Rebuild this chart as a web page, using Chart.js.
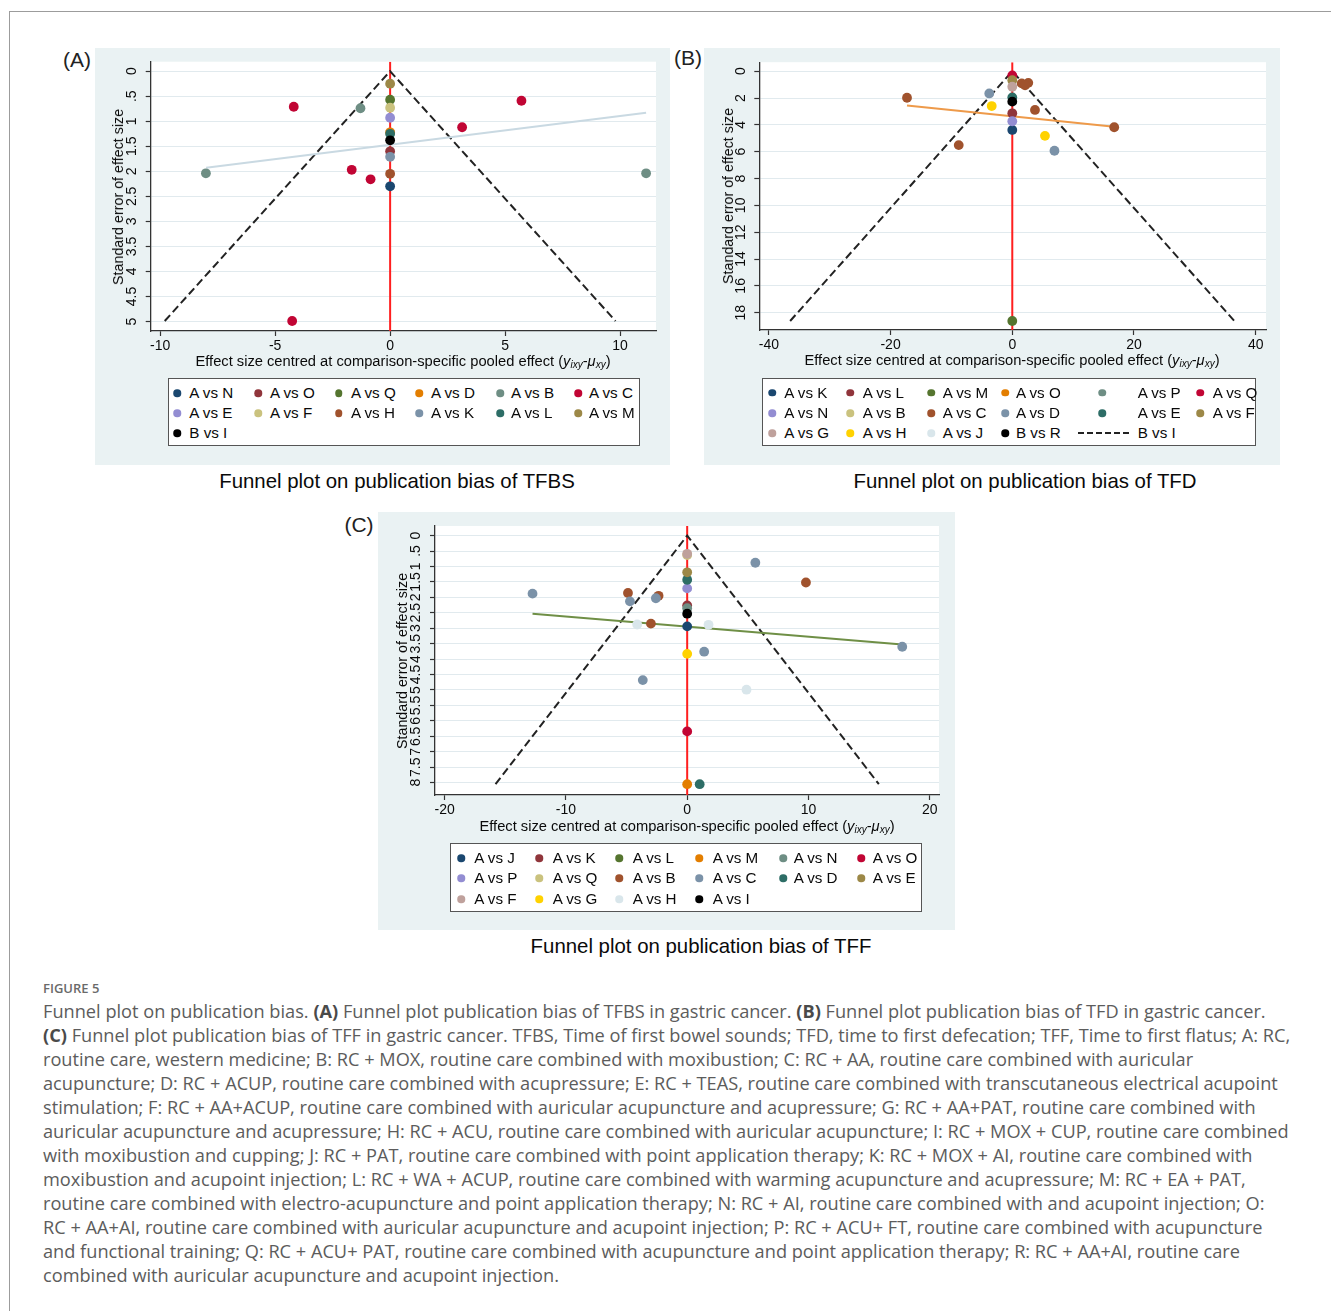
<!DOCTYPE html>
<html>
<head>
<meta charset="utf-8">
<script src="https://cdn.jsdelivr.net/npm/chart.js@4.4.1/dist/chart.umd.min.js"></script>
<style>
  html, body { margin: 0; padding: 0; background: #fff; }
  body { width: 1331px; height: 1311px; position: relative; overflow: hidden;
         font-family: "Liberation Sans", Arial, sans-serif; color: #111; }
  #frame { position: absolute; left: 9px; top: 11px; width: 1340px; height: 1320px;
           border-top: 1px solid #9c9c9c; border-left: 1px solid #9c9c9c; }
  .panel { position: absolute; background: #eaf2f3; }
  .panel canvas { position: absolute; left: 0; top: 0; }
  .tag { position: absolute; font-size: 21px; transform: translate(-50%, -50%); color: #222; }
  .xt { position: absolute; font-size: 14.7px; white-space: nowrap; transform: translate(-50%, -50%); color: #0a0a0a; }
  .xt sub { font-size: 10px; vertical-align: -2px; }
  .yt { position: absolute; font-size: 14.3px; white-space: nowrap; transform: translate(-50%, -50%) rotate(-90deg); color: #0a0a0a; }
  .legend { position: absolute; background: #fff; border: 1.5px solid #555; box-sizing: border-box; }
  .li { position: absolute; font-size: 15.2px; line-height: 16px; white-space: nowrap; transform: translateY(-50%); color: #0a0a0a; }
  .dot { position: absolute; width: 7.5px; height: 7.5px; border-radius: 50%; transform: translate(-50%, -50%); }
  .dash { position: absolute; height: 0; border-top: 2px dashed #222; transform: translateY(-50%); }
  .ptitle { position: absolute; font-size: 20.4px; white-space: nowrap; transform: translate(-50%, -50%); color: #0a0a0a; }
  #figlab { position: absolute; left: 43px; top: 979px; font-family: "Open Sans", sans-serif; font-weight: 600;
            font-size: 13px; color: #6a6a6a; }
  #cap { position: absolute; left: 43px; top: 999px; font-family: "Open Sans", sans-serif; font-size: 16.6px;
         line-height: 24px; color: #5c5c5c; white-space: nowrap; }
  #cap b { color: #4a4a4a; }
</style>
</head>
<body>
<div id="frame"></div>

<div class="panel" id="boxA" style="left:95px;top:48px;width:575px;height:417px;"><canvas id="chartA"></canvas></div>
<div class="panel" id="boxB" style="left:704px;top:48px;width:576px;height:417px;"><canvas id="chartB"></canvas></div>
<div class="panel" id="boxC" style="left:378px;top:512px;width:577px;height:418px;"><canvas id="chartC"></canvas></div>

<div class="tag" style="left:77px;top:60px;">(A)</div>
<div class="tag" style="left:688px;top:58px;">(B)</div>
<div class="tag" style="left:359px;top:525px;">(C)</div>

<div class="yt" style="left:118px;top:197px;">Standard error of effect size</div>
<div class="yt" style="left:728px;top:196px;">Standard error of effect size</div>
<div class="yt" style="left:402px;top:661px;">Standard error of effect size</div>

<div class="xt" style="left:403px;top:361px;">Effect size centred at comparison-specific pooled effect (<i>y</i><sub><i>ixy</i></sub>-<i>μ</i><sub><i>xy</i></sub>)</div>
<div class="xt" style="left:1012px;top:360px;">Effect size centred at comparison-specific pooled effect (<i>y</i><sub><i>ixy</i></sub>-<i>μ</i><sub><i>xy</i></sub>)</div>
<div class="xt" style="left:687px;top:826px;">Effect size centred at comparison-specific pooled effect (<i>y</i><sub><i>ixy</i></sub>-<i>μ</i><sub><i>xy</i></sub>)</div>

<div class="ptitle" style="left:397px;top:481px;">Funnel plot on publication bias of TFBS</div>
<div class="ptitle" style="left:1025px;top:481px;">Funnel plot on publication bias of TFD</div>
<div class="ptitle" style="left:701px;top:946px;">Funnel plot on publication bias of TFF</div>

<div id="figlab">FIGURE 5</div>
<div id="cap">
Funnel plot on publication bias. <b>(A)</b> Funnel plot publication bias of TFBS in gastric cancer. <b>(B)</b> Funnel plot publication bias of TFD in gastric cancer.<br>
<b>(C)</b> Funnel plot publication bias of TFF in gastric cancer. TFBS, Time of first bowel sounds; TFD, time to first defecation; TFF, Time to first flatus; A: RC,<br>
routine care, western medicine; B: RC + MOX, routine care combined with moxibustion; C: RC + AA, routine care combined with auricular<br>
acupuncture; D: RC + ACUP, routine care combined with acupressure; E: RC + TEAS, routine care combined with transcutaneous electrical acupoint<br>
stimulation; F: RC + AA+ACUP, routine care combined with auricular acupuncture and acupressure; G: RC + AA+PAT, routine care combined with<br>
<span id="capRef">auricular acupuncture and acupressure; H: RC + ACU, routine care combined with auricular acupuncture; I: RC + MOX + CUP, routine care combined</span><br>
with moxibustion and cupping; J: RC + PAT, routine care combined with point application therapy; K: RC + MOX + AI, routine care combined with<br>
moxibustion and acupoint injection; L: RC + WA + ACUP, routine care combined with warming acupuncture and acupressure; M: RC + EA + PAT,<br>
routine care combined with electro-acupuncture and point application therapy; N: RC + AI, routine care combined with and acupoint injection; O:<br>
RC + AA+AI, routine care combined with auricular acupuncture and acupoint injection; P: RC + ACU+ FT, routine care combined with acupuncture<br>
and functional training; Q: RC + ACU+ PAT, routine care combined with acupuncture and point application therapy; R: RC + AA+AI, routine care<br>
combined with auricular acupuncture and acupoint injection.
</div>

<script>
// Stata s2color palette
const navy = '#1a476f', maroon = '#90353b', forest = '#55752f', dkorange = '#e37e00',
      teal = '#6e8e84', cranberry = '#c10534', lavender = '#938dd2', khaki = '#cac27e',
      sienna = '#a0522d', emidblue = '#7b92a8', emerald = '#2d6d66', brown = '#9c8847',
      erose = '#bfa19c', gold = '#ffd200', bluishgray = '#d9e6eb', black = '#000000';

// ---- (A) TFBS ----
const tfbsGroups = ['A vs N', 'A vs O', 'A vs Q', 'A vs D', 'A vs B', 'A vs C',
                    'A vs E', 'A vs F', 'A vs H', 'A vs K', 'A vs L', 'A vs M', 'B vs I'];
const tfbsColors = [navy, maroon, forest, dkorange, teal, cranberry,
                    lavender, khaki, sienna, emidblue, emerald, brown, black];
const tfbsEffect = [[0], [0], [0], [0], [-1.29, -8.01, 11.13],
                    [-4.19, 5.71, 3.13, -1.67, -0.85, -4.26],
                    [0], [0], [0], [0], [0], [0], [0]];
const tfbsSE = [[2.30], [1.60], [0.57], [1.22], [0.74, 2.04, 2.04],
                [0.71, 0.59, 1.12, 1.97, 2.16, 4.99],
                [0.93], [0.73], [2.05], [1.71], [1.25], [0.25], [1.38]];
const tfbsFitX = [-8.0, 11.13];
const tfbsFitY = [1.93, 0.83];
const tfbsFunnelX = [-9.8, 0, 9.8];
const tfbsFunnelY = [4.99, 0, 4.99];
const tfbsXTicks = [-10, -5, 0, 5, 10];
const tfbsYTicks = [0, 0.5, 1, 1.5, 2, 2.5, 3, 3.5, 4, 4.5, 5];
const tfbsXRange = [-10.41, 11.56];
const tfbsYRange = [-0.19, 5.19];

// ---- (B) TFD ----
const tfdGroups = ['A vs K', 'A vs L', 'A vs M', 'A vs O', 'A vs P', 'A vs Q',
                   'A vs N', 'A vs B', 'A vs C', 'A vs D', 'A vs E', 'A vs F',
                   'A vs G', 'A vs H', 'A vs J', 'B vs R'];
const tfdColors = [navy, maroon, forest, dkorange, teal, cranberry,
                   lavender, khaki, sienna, emidblue, emerald, brown,
                   erose, gold, bluishgray, black];
const tfdEffect = [[0], [0], [0], [], [], [0],
                   [0], [], [1.54, 2.63, 2.1, -17.3, 3.73, -8.8, 16.75], [-3.78, 6.93], [0], [0],
                   [0], [-3.38, 5.37], [], [0]];
const tfdSE = [[4.38], [3.14], [18.62], [], [], [0.32],
               [3.73], [], [0.91, 0.87, 1.05, 1.98, 2.89, 5.51, 4.18], [1.66, 5.93], [1.95], [0.67],
               [1.16], [2.6, 4.82], [], [2.27]];
const tfdFitX = [-17.3, 16.75];
const tfdFitY = [2.55, 4.15];
const tfdFunnelX = [-36.5, 0, 36.5];
const tfdFunnelY = [18.62, 0, 18.62];
const tfdXTicks = [-40, -20, 0, 20, 40];
const tfdYTicks = [0, 2, 4, 6, 8, 10, 12, 14, 16, 18];
const tfdXRange = [-41.57, 41.69];
const tfdYRange = [-0.67, 19.29];

// ---- (C) TFF ----
const tffGroups = ['A vs J', 'A vs K', 'A vs L', 'A vs M', 'A vs N', 'A vs O',
                   'A vs P', 'A vs Q', 'A vs B', 'A vs C', 'A vs D', 'A vs E',
                   'A vs F', 'A vs G', 'A vs H', 'A vs I'];
const tffColors = [navy, maroon, forest, dkorange, teal, cranberry,
                   lavender, khaki, sienna, emidblue, emerald, brown,
                   erose, gold, bluishgray, black];
const tffEffect = [[0], [0], [], [0], [0], [0],
                   [0], [0], [9.79, -4.88, -2.36, -2.99], [5.62, -12.75, -4.72, -2.58, 17.73, 1.4, -3.66], [0, 1.03], [0],
                   [0], [0], [-4.12, 1.76, 4.89], [0]];
const tffSE = [[2.94], [2.26], [], [8.05], [2.35], [6.34],
               [1.71], [0.63], [1.52, 1.86, 1.95, 2.85], [0.88, 1.88, 2.13, 2.03, 3.6, 3.76, 4.68], [1.43, 8.05], [1.19],
               [0.59], [3.83], [2.88, 2.89, 4.99], [2.53]];
const tffFitX = [-12.75, 17.73];
const tffFitY = [2.53, 3.53];
const tffFunnelX = [-15.8, 0, 15.8];
const tffFunnelY = [8.05, 0, 8.05];
const tffXTicks = [-20, -10, 0, 10, 20];
const tffYTicks = [0, 0.5, 1, 1.5, 2, 2.5, 3, 3.5, 4, 4.5, 5, 5.5, 6, 6.5, 7, 7.5, 8];
const tffXRange = [-20.79, 20.76];
const tffYRange = [-0.31, 8.40];

const FONT = '"Liberation Sans", Arial, sans-serif';
Chart.defaults.font.family = FONT;

const stataNum = v => (v === 0 ? '0' : String(v).replace(/^(-?)0\./, '$1.'));

const plotBg = {
  id: 'plotBg',
  beforeDraw(chart) {
    const { ctx, chartArea: a } = chart;
    ctx.save();
    ctx.fillStyle = '#ffffff';
    ctx.fillRect(a.left, a.top, a.right - a.left, a.bottom - a.top);
    ctx.restore();
  }
};

function toXY(xs, ys) {
  return xs.map((x, i) => ({ x: x, y: ys[i] }));
}

function funnelChart(id, d, g) {
  const canvas = document.getElementById(id);
  canvas.width = g.w;
  canvas.height = g.b + g.xh;

  const n = d.groups.length;
  const pointSets = d.groups.map((name, i) => ({
    label: name,
    data: toXY(d.effect[i], d.se[i]),
    backgroundColor: d.colors[i],
    borderColor: d.colors[i],
    borderWidth: 0,
    pointRadius: 4.9,
    pointHoverRadius: 4.9,
    order: n - i
  }));

  const lineSets = [
    { label: 'fit', data: toXY(d.fitX, d.fitY), showLine: true, pointRadius: 0,
      borderColor: d.fitColor, borderWidth: 2, order: 50 },
    { label: 'funnel', data: toXY(d.funnelX, d.funnelY), showLine: true, pointRadius: 0,
      borderColor: '#222', borderWidth: 2, borderDash: [8, 4], order: 51 },
    { label: 'zero', data: toXY([0, 0], d.yRange), showLine: true, pointRadius: 0,
      borderColor: '#ff1f1f', borderWidth: 2, order: 52 }
  ];

  return new Chart(canvas, {
    type: 'scatter',
    data: { datasets: pointSets.concat(lineSets) },
    plugins: [plotBg],
    options: {
      responsive: false,
      animation: false,
      devicePixelRatio: 1,
      layout: { padding: { left: 0, top: g.t, right: g.w - g.r, bottom: 0 } },
      plugins: { legend: { display: false }, tooltip: { enabled: false } },
      scales: {
        x: {
          type: 'linear',
          min: d.xRange[0], max: d.xRange[1],
          afterBuildTicks: s => { s.ticks = d.xTicks.map(v => ({ value: v })); },
          afterFit: s => { s.height = g.xh; },
          grid: { drawOnChartArea: false, tickLength: 5, tickColor: '#333', tickWidth: 1.2 },
          border: { color: '#333', width: 1.3 },
          ticks: { color: '#0a0a0a', font: { size: 14 }, padding: 1.5, maxRotation: 0, autoSkip: false,
                   callback: v => stataNum(v) }
        },
        y: {
          type: 'linear',
          reverse: true,
          min: d.yRange[0], max: d.yRange[1],
          afterBuildTicks: s => { s.ticks = d.yTicks.map(v => ({ value: v })); },
          afterFit: s => { s.width = g.l; },
          grid: { color: '#e1eaee', lineWidth: 1, tickLength: 5, tickColor: '#333', tickWidth: 1.2 },
          border: { color: '#333', width: 1.3 },
          ticks: { color: '#0a0a0a', font: { size: 14 }, padding: g.yPad, minRotation: 90, maxRotation: 90,
                   crossAlign: 'center', autoSkip: false, callback: v => stataNum(v) }
        }
      }
    }
  });
}

funnelChart('chartA', {
  groups: tfbsGroups, colors: tfbsColors, effect: tfbsEffect, se: tfbsSE,
  fitX: tfbsFitX, fitY: tfbsFitY, fitColor: '#c9d9e2',
  funnelX: tfbsFunnelX, funnelY: tfbsFunnelY,
  xTicks: tfbsXTicks, yTicks: tfbsYTicks, xRange: tfbsXRange, yRange: tfbsYRange
}, { w: 575, l: 55.7, t: 13.7, r: 561, b: 283, xh: 27, yPad: 4 });

funnelChart('chartB', {
  groups: tfdGroups, colors: tfdColors, effect: tfdEffect, se: tfdSE,
  fitX: tfdFitX, fitY: tfdFitY, fitColor: '#ee9a4a',
  funnelX: tfdFunnelX, funnelY: tfdFunnelY,
  xTicks: tfdXTicks, yTicks: tfdYTicks, xRange: tfdXRange, yRange: tfdYRange
}, { w: 576, l: 55.3, t: 13, r: 562, b: 282, xh: 27, yPad: 5.8 });

funnelChart('chartC', {
  groups: tffGroups, colors: tffColors, effect: tffEffect, se: tffSE,
  fitX: tffFitX, fitY: tffFitY, fitColor: '#6f8f46',
  funnelX: tffFunnelX, funnelY: tffFunnelY,
  xTicks: tffXTicks, yTicks: tffYTicks, xRange: tffXRange, yRange: tffYRange
}, { w: 577, l: 57, t: 14, r: 561, b: 283.7, xh: 27, yPad: 4 });

// ---- legends (Stata style, 6 columns) ----
function buildLegend(groups, colors, box, extra) {
  const el = document.createElement('div');
  el.className = 'legend';
  el.style.left = box.left + 'px';
  el.style.top = box.top + 'px';
  el.style.width = box.w + 'px';
  el.style.height = box.h + 'px';
  const items = groups.map((name, i) => ({ name: name, color: colors[i] }));
  if (extra) items.push(extra);
  items.forEach((it, i) => {
    const col = i % 6, row = Math.floor(i / 6);
    const y = box.rowY[row];
    if (it.dashed) {
      const k = document.createElement('div');
      k.className = 'dash';
      k.style.left = box.dashX[0] + 'px';
      k.style.width = (box.dashX[1] - box.dashX[0]) + 'px';
      k.style.top = y + 'px';
      el.appendChild(k);
    } else {
      const k = document.createElement('div');
      k.className = 'dot';
      k.style.left = box.dotX[col] + 'px';
      k.style.top = y + 'px';
      k.style.background = it.color;
      el.appendChild(k);
    }
    const t = document.createElement('div');
    t.className = 'li';
    t.style.left = box.textX[col] + 'px';
    t.style.top = y + 'px';
    t.textContent = it.name;
    el.appendChild(t);
  });
  document.body.appendChild(el);
}

buildLegend(tfbsGroups, tfbsColors,
  { left: 168, top: 378, w: 472, h: 68,
    dotX: [8, 89.3, 169.7, 250.3, 331.3, 409.3], textX: [20.3, 101, 182, 262, 342, 420], rowY: [14.3, 34.3, 54.3] });
buildLegend(tfdGroups, tfdColors,
  { left: 762, top: 378, w: 494, h: 68,
    dotX: [9, 87.3, 168, 242.3, 339, 437.3], textX: [21.3, 99.7, 179.7, 253, 374.7, 449.7], rowY: [13.7, 34.3, 54.3],
    dashX: [314.7, 366] },
  { name: 'B vs I', dashed: true });
buildLegend(tffGroups, tffColors,
  { left: 450, top: 843, w: 472, h: 69,
    dotX: [10, 88.3, 168.3, 248.3, 332.3, 410], textX: [23.3, 101.7, 181.7, 261.7, 342.7, 421.7], rowY: [14, 34.3, 55] });

// fit caption width to the printed line length
const cap = document.getElementById('cap');
const refW = document.getElementById('capRef').getBoundingClientRect().width;
cap.style.fontSize = (16.6 * 1246 / refW) + 'px';
</script>
</body>
</html>
